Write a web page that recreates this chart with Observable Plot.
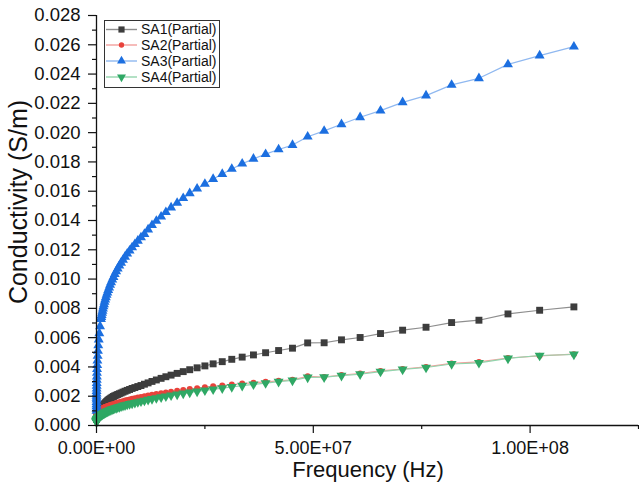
<!DOCTYPE html>
<html><head><meta charset="utf-8">
<script src="https://cdn.jsdelivr.net/npm/d3@7"></script>
<script src="https://cdn.jsdelivr.net/npm/@observablehq/plot@0.6"></script>
<style>body{margin:0;background:#fff} svg{display:block}</style>
</head><body><div id="chart"></div>
<script>
// Frequency (Hz)
const freq = [1.101e8,1.022e8,9.49e7,8.82e7,8.19e7,7.60e7,7.06e7,6.55e7,6.08e7,5.65e7,
5.25e7,4.87e7,4.52e7,4.20e7,3.90e7,3.62e7,3.36e7,3.12e7,2.90e7,2.69e7,
2.50e7,2.32e7,2.15e7,2.00e7,1.86e7,1.72e7,1.60e7,1.49e7,1.38e7,1.28e7,
1.19e7,1.105e7,1.026e7,9.53e6,8.85e6,8.21e6,7.63e6,7.08e6,6.58e6,6.11e6,
5.67e6,5.27e6,4.89e6,4.54e6,4.21e6,3.91e6,3.63e6,3.37e6,3.13e6,2.91e6,
2.70e6,2.51e6,2.33e6,2.16e6,2.01e6,1.86e6,1.73e6,1.61e6,1.49e6,1.39e6,
1.29e6,1.19e6,1.11e6,1.03e6,
8.2e5,6.5e5,5.2e5,4.1e5,3.3e5,2.6e5,2.1e5,1.6e5,1.3e5,1.0e5,
8.2e4,6.5e4,5.2e4,4.1e4,3.3e4,2.6e4,2.1e4,1.6e4,1.3e4,1.0e4,
8e3,6e3,4e3,2e3,1e3];

const sa1 = [0.00810,0.00787,0.00762,0.00719,0.00703,0.00671,0.00651,0.00628,0.00601,0.00585,
0.00565,0.00564,0.00528,0.00512,0.00497,0.00482,0.00467,0.00452,0.00436,0.00421,
0.00407,0.00394,0.00381,0.00368,0.00356,0.00344,0.00333,0.00322,0.00311,0.00301,
0.00291,0.00282,0.00273,0.00266,0.00259,0.00253,0.00246,0.00240,0.00234,0.00228,
0.00222,0.00217,0.00212,0.00207,0.00203,0.00198,0.00193,0.00188,0.00183,0.00178,
0.00173,0.00168,0.00163,0.00158,0.00153,0.00148,0.00143,0.00138,0.00133,0.00128,
0.00124,0.00120,0.00116,0.00112,
0.00104,0.00097,0.00090,0.00084,0.00079,0.00074,0.00070,0.00066,0.00063,0.00060,
0.00058,0.00056,0.00054,0.00052,0.00051,0.00050,0.00049,0.00048,0.00047,0.00046,
0.00045,0.00044,0.00043,0.00042,0.00041];

const sa2 = [0.00487,0.00476,0.00461,0.00434,0.00424,0.00400,0.00386,0.00373,0.00355,0.00345,
0.00331,0.00336,0.00312,0.00305,0.00298,0.00292,0.00286,0.00280,0.00274,0.00268,
0.00262,0.00255,0.00249,0.00243,0.00237,0.00231,0.00226,0.00220,0.00215,0.00210,
0.00205,0.00200,0.00195,0.00191,0.00186,0.00182,0.00178,0.00174,0.00170,0.00166,
0.00162,0.00159,0.00155,0.00152,0.00148,0.00145,0.00143,0.00141,0.00139,0.00136,
0.00134,0.00132,0.00130,0.00128,0.00126,0.00124,0.00122,0.00120,0.00118,0.00117,
0.00115,0.00113,0.00111,0.00110,
0.00106,0.00102,0.00099,0.00096,0.00093,0.00090,0.00088,0.00086,0.00084,0.00082,
0.00080,0.00078,0.00077,0.00076,0.00075,0.00074,0.00073,0.00072,0.00071,0.00070,
0.00069,0.00068,0.00067,0.00066,0.00065];

const sa3 = [0.02587,0.02526,0.02466,0.02371,0.02326,0.02253,0.02207,0.02150,0.02105,0.02057,
0.02012,0.01972,0.01915,0.01885,0.01853,0.01821,0.01788,0.01752,0.01717,0.01683,
0.01650,0.01617,0.01586,0.01552,0.01520,0.01488,0.01457,0.01426,0.01397,0.01368,
0.01338,0.01307,0.01284,0.01261,0.01238,0.01216,0.01194,0.01173,0.01152,0.01131,
0.01111,0.01091,0.01071,0.01052,0.01033,0.01014,0.00996,0.00978,0.00960,0.00942,
0.00925,0.00908,0.00892,0.00875,0.00859,0.00844,0.00828,0.00813,0.00798,0.00783,
0.00769,0.00754,0.00740,0.00727,
0.00677,0.00630,0.00587,0.00547,0.00510,0.00475,0.00443,0.00413,0.00385,0.00359,
0.00334,0.00311,0.00290,0.00270,0.00251,0.00234,0.00218,0.00203,0.00189,0.00176,
0.00160,0.00145,0.00130,0.00115,0.00100];

const sa4 = [0.00485,0.00478,0.00458,0.00428,0.00420,0.00396,0.00383,0.00368,0.00350,0.00340,
0.00330,0.00328,0.00308,0.00299,0.00290,0.00281,0.00272,0.00263,0.00255,0.00247,
0.00240,0.00233,0.00226,0.00219,0.00212,0.00206,0.00199,0.00193,0.00187,0.00181,
0.00176,0.00170,0.00165,0.00160,0.00155,0.00151,0.00147,0.00143,0.00139,0.00135,
0.00131,0.00127,0.00124,0.00120,0.00117,0.00114,0.00111,0.00108,0.00105,0.00102,
0.00099,0.00096,0.00094,0.00091,0.00089,0.00086,0.00084,0.00082,0.00080,0.00078,
0.00076,0.00074,0.00072,0.00070,
0.00066,0.00062,0.00058,0.00055,0.00052,0.00049,0.00047,0.00045,0.00043,0.00041,
0.00039,0.00037,0.00036,0.00035,0.00034,0.00033,0.00032,0.00031,0.00030,0.00029,
0.00028,0.00027,0.00026,0.00025,0.00024];

const seriesNames = ["SA1(Partial)","SA2(Partial)","SA3(Partial)","SA4(Partial)"];
const xTicks = [0, 5e7, 1e8];
const xTickLabels = ["0.00E+00","5.00E+07","1.00E+08"];
const xMinorTicks = [2.5e7, 7.5e7, 1.25e8];
const yTicks = [0,0.002,0.004,0.006,0.008,0.010,0.012,0.014,0.016,0.018,0.020,0.022,0.024,0.026,0.028];
const yTickLabels = ["0.000","0.002","0.004","0.006","0.008","0.010","0.012","0.014","0.016","0.018","0.020","0.022","0.024","0.026","0.028"];
const yMinorTicks = [0.001,0.003,0.005,0.007,0.009,0.011,0.013,0.015,0.017,0.019,0.021,0.023,0.025,0.027];
const xTitle = "Frequency (Hz)";
const yTitle = "Conductivity (S/m)";

const styles = [
  {symbol:"square",   fill:"#3d3d3d", line:"#8e8e8e", r:3.9, rotate:0},
  {symbol:"circle",   fill:"#e8423b", line:"#f3a09c", r:3.0, rotate:0},
  {symbol:"triangle", fill:"#1c6fe0", line:"#8fb8f0", r:3.7, rotate:0},
  {symbol:"triangle", fill:"#2fa865", line:"#92d4ad", r:3.7, rotate:180}
];
const allSeries = [sa1, sa2, sa3, sa4];
const tables = allSeries.map(vals => freq.map((f, i) => ({f, v: vals[i]})));

const font = "'Liberation Sans', Arial, Helvetica, sans-serif";
const marks = [];
tables.forEach((t, k) => {
  const s = styles[k];
  marks.push(Plot.line(t, {x:"f", y:"v", stroke:s.line, strokeWidth:1.2, sort:"x"}));
  marks.push(Plot.dot(t, {x:"f", y:"v", symbol:s.symbol, r:s.r, fill:s.fill, stroke:"none", rotate:s.rotate}));
});
marks.push(
  Plot.axisX({ticks:xTicks, tickFormat:d => xTickLabels[xTicks.indexOf(d)], tickSize:8, tickPadding:8, fontSize:18, label:null, stroke:"#111", strokeWidth:1.2, fill:"#111"}),
  Plot.axisX({ticks:xMinorTicks, tickFormat:() => "", tickSize:4, label:null, stroke:"#111", strokeWidth:1.2}),
  Plot.axisY({ticks:yTicks, tickFormat:d => yTickLabels[yTicks.indexOf(d)], tickSize:8, tickPadding:8, fontSize:18.5, label:null, stroke:"#111", strokeWidth:1.2, fill:"#111"}),
  Plot.axisY({ticks:yMinorTicks, tickFormat:() => "", tickSize:4, label:null, stroke:"#111", strokeWidth:1.2}),
  Plot.ruleX([0], {stroke:"#111", strokeWidth:1.3}),
  Plot.ruleY([0], {stroke:"#111", strokeWidth:1.3})
);

const svgNode = Plot.plot({
  width:639, height:493,
  marginLeft:96, marginTop:15, marginRight:1, marginBottom:68,
  x:{domain:[0, 1.25e8]},
  y:{domain:[0, 0.028]},
  style:{fontFamily:font, background:"#fff", color:"#111"},
  marks
});
document.getElementById("chart").appendChild(svgNode);

const svg = d3.select(svgNode);
// axis titles
svg.append("text").attr("x", 368).attr("y", 469).attr("dy", "0.35em")
  .attr("text-anchor", "middle").attr("font-size", 22).attr("font-family", font).attr("fill", "#111").text(xTitle);
svg.append("text").attr("transform", "translate(18,202) rotate(-90)").attr("dy", "0.35em")
  .attr("text-anchor", "middle").attr("font-size", 25).attr("font-family", font).attr("fill", "#111").text(yTitle);

// legend
const lg = svg.append("g").attr("text-anchor", "start");
lg.append("rect").attr("x", 104.5).attr("y", 20.5).attr("width", 115).attr("height", 67)
  .attr("fill", "#fff").attr("stroke", "#333").attr("stroke-width", 1);
const rowY = [29.5, 45, 61, 77];
const symGen = {square:d3.symbolSquare, circle:d3.symbolCircle, triangle:d3.symbolTriangle};
seriesNames.forEach((name, k) => {
  const s = styles[k], y = rowY[k];
  lg.append("line").attr("x1", 106).attr("x2", 137).attr("y1", y).attr("y2", y)
    .attr("stroke", s.line).attr("stroke-width", 1.4);
  lg.append("path").attr("d", d3.symbol(symGen[s.symbol], Math.PI * s.r * s.r * 0.8)())
    .attr("transform", `translate(121.5,${y}) rotate(${s.rotate})`).attr("fill", s.fill);
  lg.append("text").attr("x", 141).attr("y", y).attr("dy", "0.35em").attr("text-anchor", "start")
    .attr("font-size", 14).attr("font-family", font).attr("fill", "#111").text(name);
});
</script>
</body></html>
